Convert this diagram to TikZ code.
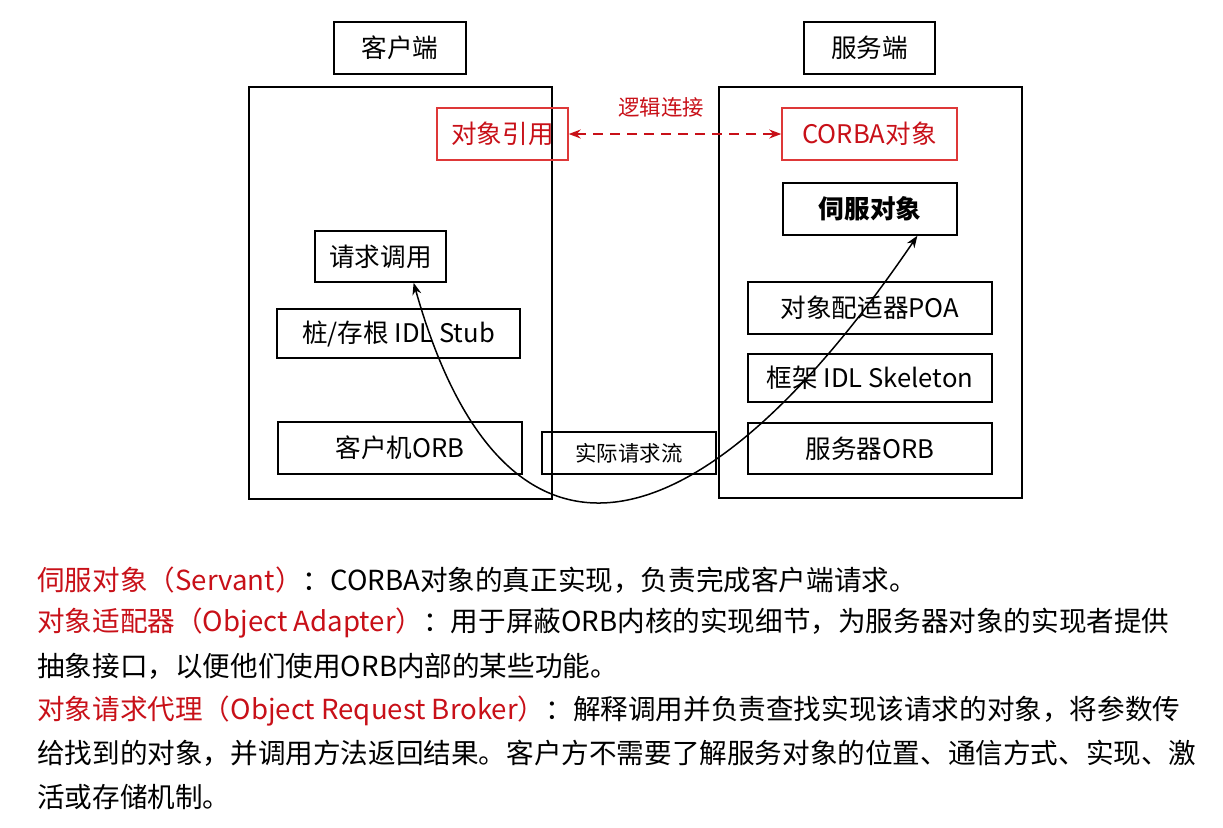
\documentclass[tikz,border=0pt]{standalone}
\usepackage{fontspec}
\setmainfont{Noto Sans CJK SC}
\usepackage{xcolor}
\usetikzlibrary{arrows.meta,calc}
\definecolor{cred}{RGB}{200,16,24}
\definecolor{boxred}{RGB}{222,56,56}
\newcommand{\boxfont}{\fontsize{12.8pt}{15pt}\selectfont}
\newcommand{\smallfont}{\fontsize{10.7pt}{13pt}\selectfont}
\newcommand{\notefont}{\fontsize{13.8pt}{17pt}\selectfont}

\begin{document}
\begin{tikzpicture}[x=0.5pt, y=-0.5pt, >={Stealth[length=6pt,width=4.5pt]},
    box/.style={draw, line width=0.75pt, inner sep=0pt, font=\boxfont},
    redbox/.style={box, draw=boxred, text=cred},
    note/.style={anchor=west, inner sep=0pt, font=\notefont}]
      \useasboundingbox (0,0) rectangle (1223,827);

      \node[box, minimum width=66pt, minimum height=26pt] (clienttitle) at (400,48) {客户端};
      \node[box, minimum width=65.5pt, minimum height=26pt] (servertitle) at (869.5,48) {服务端};
      \node[box, minimum width=151.5pt, minimum height=206pt] (clientbox) at (400.5,293) {};
      \node[box, minimum width=151.5pt, minimum height=205.5pt] (serverbox) at (870.5,292.5) {};

      \node[redbox, minimum width=65.5pt, minimum height=26pt] (objref) at (502.5,134) {对象引用};
      \node[redbox, minimum width=87.5pt, minimum height=26pt] (corbaobj) at (869.5,134) {CORBA对象};
      \node[text=cred, inner sep=0pt, font=\smallfont] (logic) at (661,107) {逻辑连接};

      \node[box, minimum width=87pt, minimum height=26pt] (servant) at (870,209) {\bfseries 伺服对象};
      \node[box, minimum width=65.5pt, minimum height=25.5pt] (reqcall) at (380.5,256.5) {请求调用};
      \node[box, minimum width=121.5pt, minimum height=24.5pt] (stub) at (398.5,333.5) {桩/存根 IDL Stub};
      \node[box, minimum width=122pt, minimum height=26pt] (poa) at (870,308) {对象配适器POA};
      \node[box, minimum width=122pt, minimum height=24pt] (skel) at (870,378) {框架 IDL Skeleton};
      \node[box, minimum width=122pt, minimum height=26pt] (clientorb) at (400,448) {客户机ORB};
      \node[box, minimum width=87pt, minimum height=21pt, font=\smallfont] (flow) at (629,453) {实际请求流};
      \node[box, minimum width=122pt, minimum height=25.5pt] (serverorb) at (870,448.5) {服务器ORB};

      \draw[<->, cred, line width=0.75pt, dash pattern=on 5pt off 3.5pt] (objref) -- (corbaobj);
      \draw[<->, line width=0.75pt] ($(reqcall.south)!0.5!(reqcall.south east)$) .. controls +(86,306) and +(-230,338) .. ($(servant.south)!0.54!(servant.south east)$);

      \node[note] (note1) at (37,580) {\textcolor{cred}{伺服对象（Servant）}：CORBA对象的真正实现，负责完成客户端请求。};
      \node[note] (note2) at (37,623) {\textcolor{cred}{对象适配器（Object Adapter）}：用于屏蔽ORB内核的实现细节，为服务器对象的实现者提供};
      \node[note] (note3) at (37,666) {抽象接口，以便他们使用ORB内部的某些功能。};
      \node[note] (note4) at (37,711) {\textcolor{cred}{对象请求代理（Object Request Broker）}：解释调用并负责查找实现该请求的对象，将参数传};
      \node[note] (note5) at (37,753) {给找到的对象，并调用方法返回结果。客户方不需要了解服务对象的位置、通信方式、实现、激};
      \node[note] (note6) at (37,797) {活或存储机制。};
    \end{tikzpicture}
\end{document}
